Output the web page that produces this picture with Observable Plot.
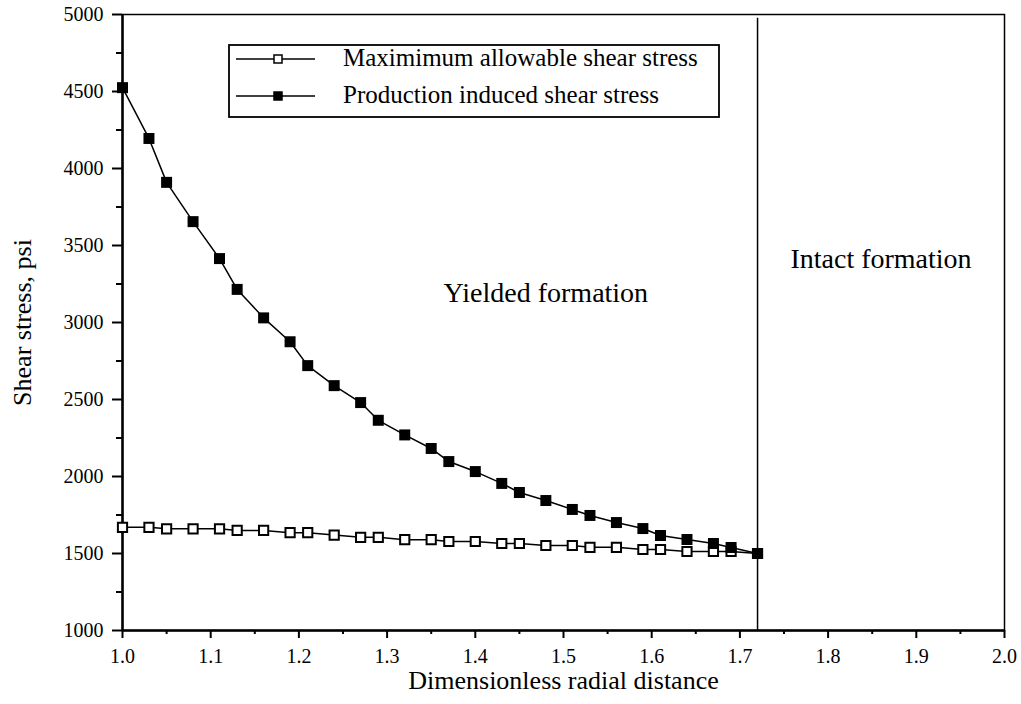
<!DOCTYPE html>
<html><head><meta charset="utf-8">
<script src="https://cdn.jsdelivr.net/npm/d3@7"></script>
<script src="https://cdn.jsdelivr.net/npm/@observablehq/plot@0.6"></script>
<style>
body{margin:0;background:#fff;}
#wrap{position:relative;width:1021px;height:704px;}
#legend{position:absolute;left:228px;top:44px;}
</style></head><body><div id="wrap"></div>
<script>
// Dimensionless radial distance
const radius = [1.00,1.03,1.05,1.08,1.11,1.13,1.16,1.19,1.21,1.24,1.27,1.29,1.32,1.35,1.37,1.40,1.43,1.45,1.48,1.51,1.53,1.56,1.59,1.61,1.64,1.67,1.69,1.72];
// Maximimum allowable shear stress, psi
const maxAllowable = [1670,1670,1660,1660,1660,1650,1650,1635,1635,1620,1605,1605,1590,1590,1578,1578,1565,1565,1552,1552,1540,1540,1526,1526,1513,1513,1513,1500];
// Production induced shear stress, psi
const productionInduced = [4525,4195,3910,3655,3415,3215,3030,2875,2720,2590,2480,2365,2270,2182,2097,2032,1955,1896,1844,1786,1747,1701,1662,1617,1591,1565,1539,1500];
const yieldRadius = 1.72;

const seriesNames = ["Maximimum allowable shear stress","Production induced shear stress"];
const regionLabels = ["Yielded formation","Intact formation"];
const xLabel = "Dimensionless radial distance";
const yLabel = "Shear stress, psi";

const xTicks = [1.0,1.1,1.2,1.3,1.4,1.5,1.6,1.7,1.8,1.9,2.0];
const xTickLabels = ["1.0","1.1","1.2","1.3","1.4","1.5","1.6","1.7","1.8","1.9","2.0"];
const xMinorTicks = [1.05,1.15,1.25,1.35,1.45,1.55,1.65,1.75,1.85,1.95];
const yTicks = [1000,1500,2000,2500,3000,3500,4000,4500,5000];
const yTickLabels = ["1000","1500","2000","2500","3000","3500","4000","4500","5000"];
const yMinorTicks = [1250,1750,2250,2750,3250,3750,4250,4750];

const maxData = radius.map((r,i)=>({r, v:maxAllowable[i]}));
const prodData = radius.map((r,i)=>({r, v:productionInduced[i]}));

const serif = "'Liberation Serif', 'Times New Roman', serif";
const plot = Plot.plot({
  width:1021, height:704,
  marginLeft:122, marginRight:17, marginTop:14, marginBottom:74,
  style:{fontFamily:serif, fontSize:"20px", color:"black", background:"white", overflow:"visible"},
  x:{domain:[1,2]},
  y:{domain:[1000,5000]},
  marks:[
    Plot.frame({stroke:"black", strokeWidth:1.5}),
    Plot.axisX(xTicks,{tickSize:8, tickPadding:10, fontSize:20, tickFormat:(d,i)=>xTickLabels[i], strokeWidth:2, label:null, fill:"black"}),
    Plot.axisX(xMinorTicks,{tickSize:4, text:null, strokeWidth:2, label:null}),
    Plot.axisY(yTicks,{tickSize:10, tickPadding:9, fontSize:20, tickFormat:(d,i)=>yTickLabels[i], strokeWidth:2, label:null, fill:"black"}),
    Plot.axisY(yMinorTicks,{tickSize:6, text:null, strokeWidth:2, label:null}),
    Plot.ruleX([1],{strokeWidth:2.5}),
    Plot.ruleY([1000],{strokeWidth:2.5}),
    Plot.ruleX([yieldRadius],{y1:1000, y2:4975, strokeWidth:1.5}),
    Plot.line(maxData,{x:"r", y:"v", stroke:"black", strokeWidth:1.5}),
    Plot.line(prodData,{x:"r", y:"v", stroke:"black", strokeWidth:1.5}),
    Plot.dot(maxData,{x:"r", y:"v", symbol:"square", r:5.2, fill:"white", stroke:"black", strokeWidth:2}),
    Plot.dot(prodData,{x:"r", y:"v", symbol:"square", r:6.2, fill:"black"}),
    Plot.text([regionLabels[0]],{x:1.48, y:3190, fontSize:28, fill:"black"}),
    Plot.text([regionLabels[1]],{x:(yieldRadius+2)/2, y:3415, fontSize:28, fill:"black"}),
    Plot.text([xLabel],{frameAnchor:"bottom", textAnchor:"middle", dy:58, fontSize:26, fill:"black"}),
    Plot.text([yLabel],{frameAnchor:"left", textAnchor:"middle", dx:-100, rotate:-90, fontSize:26, fill:"black"})
  ]
});
const wrap = document.getElementById("wrap");
wrap.appendChild(plot);

// Legend overlay
const lw = 492, lh = 74;
const leg = d3.create("svg").attr("id","legend").attr("width",lw).attr("height",lh)
  .style("font-family",serif);
leg.append("rect").attr("x",1).attr("y",1).attr("width",lw-2).attr("height",lh-2)
  .attr("fill","white").attr("stroke","black").attr("stroke-width",1.8);
const rows = [{name:seriesNames[0], fill:"white", y:15},{name:seriesNames[1], fill:"black", y:52}];
rows.forEach(row=>{
  leg.append("line").attr("x1",8).attr("x2",87).attr("y1",row.y).attr("y2",row.y).attr("stroke","black").attr("stroke-width",1.5);
  leg.append("rect").attr("x",50-4).attr("y",row.y-4).attr("width",8).attr("height",8)
    .attr("fill",row.fill).attr("stroke","black").attr("stroke-width",1.5);
  leg.append("text").attr("x",115).attr("y",row.y+1).attr("dominant-baseline","middle")
    .attr("font-size",25).attr("fill","black").text(row.name);
});
wrap.appendChild(leg.node());
</script></body></html>
